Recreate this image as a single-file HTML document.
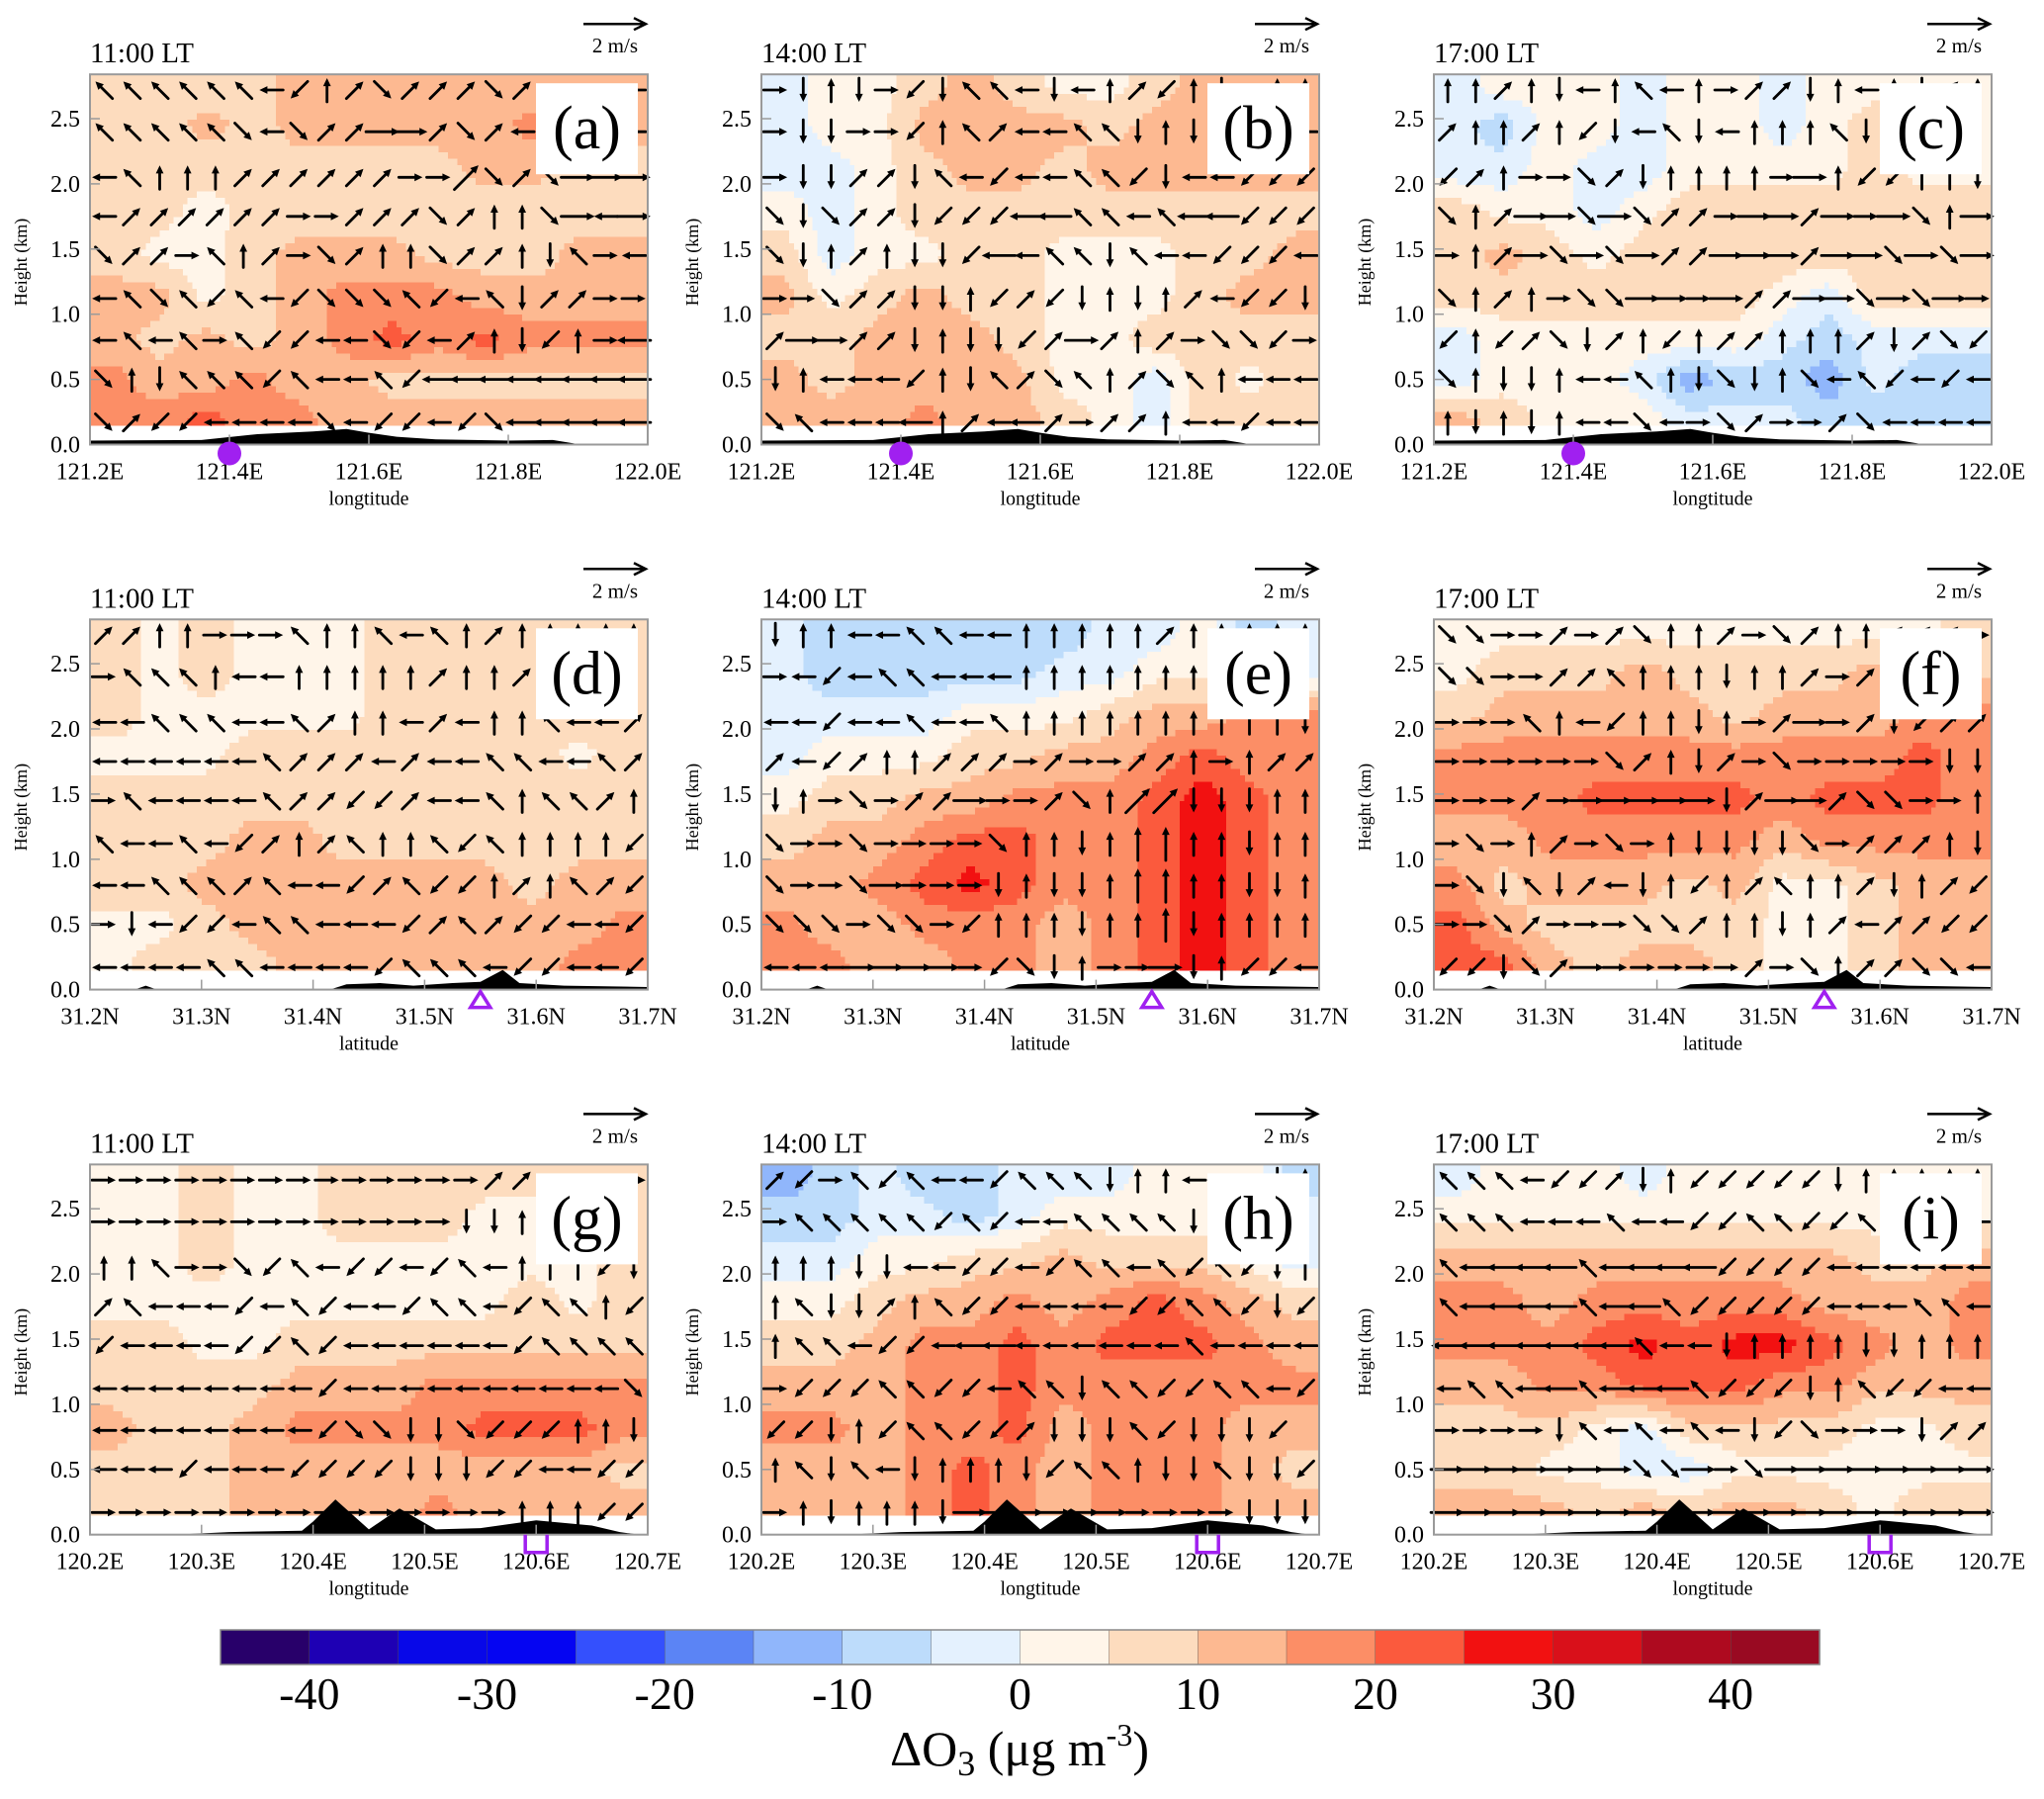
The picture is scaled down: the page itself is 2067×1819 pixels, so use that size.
<!DOCTYPE html>
<html><head><meta charset="utf-8">
<style>
html,body{margin:0;padding:0;background:#fff;}
svg, svg text{font-family:"Liberation Serif","DejaVu Serif",serif;}
</style></head>
<body>
<svg id="fig" width="2067" height="1814" viewBox="0 0 2067 1814" xmlns="http://www.w3.org/2000/svg" font-family="Liberation Serif, DejaVu Serif, serif">
<g id="panels"></g>
<g id="cbar"></g>
</svg>
<script>
// ---------- data ----------
const gridHeights = [2.75, 2.45, 2.1, 1.8, 1.45, 1.15, 0.8, 0.5, 0.2];
const windHeights = [2.72, 2.4, 2.05, 1.75, 1.45, 1.12, 0.8, 0.5, 0.17];
const panelLetters = ['a','b','c','d','e','f','g','h','i'];
const panelTimes = ['11:00  LT','14:00  LT','17:00  LT','11:00  LT','14:00  LT','17:00  LT','11:00  LT','14:00  LT','17:00  LT'];
const rowTickLabels = [
  ['121.2E','121.4E','121.6E','121.8E','122.0E'],
  ['31.2N','31.3N','31.4N','31.5N','31.6N','31.7N'],
  ['120.2E','120.3E','120.4E','120.5E','120.6E','120.7E']
];
const rowAxisTitles = ['longtitude','latitude','longtitude'];
const yTickValues = [0.0, 0.5, 1.0, 1.5, 2.0, 2.5];
const cbarTicks = [-40,-30,-20,-10,0,10,20,30,40];

const fieldA = [
 [5,5,7,8,12,12,12,12,12,12,12,12],
 [7,7,12,8,12,12,12,12,12,17,12,12],
 [7,7,7,7,8,8,8,8,12,12,8,8],
 [7,7,3,7,7,7,7,7,7,7,7,7],
 [8,3,3,8,12,12,12,8,8,7,12,12],
 [12,12,3,8,12,17,17,17,12,12,12,12],
 [12,8,12,8,12,17,22,17,22,17,17,17],
 [17,12,12,17,12,12,8,8,8,8,8,8],
 [17,17,22,17,17,12,12,12,12,12,12,12]];
const fieldB = [
 [-3,3,3,8,12,8,3,3,8,12,12,12],
 [-3,3,3,12,12,12,12,8,12,12,12,12],
 [-3,-3,3,8,12,12,8,12,12,12,12,12],
 [3,-3,3,8,8,8,8,8,8,8,8,8],
 [8,-3,3,3,8,8,3,3,3,8,8,12],
 [12,3,8,12,8,8,3,3,3,8,12,12],
 [8,8,12,12,12,8,3,3,8,8,8,8],
 [12,8,12,12,12,12,3,3,-3,8,3,8],
 [12,12,12,17,12,12,8,3,-3,8,8,8]];
const fieldC = [
 [-3,3,3,3,-3,3,3,-3,3,3,3,3],
 [-3,-8,3,3,-3,3,3,-3,3,8,3,3],
 [-3,-3,3,-3,-3,3,3,3,3,8,3,3],
 [8,3,3,-3,3,8,8,8,8,8,8,8],
 [8,12,8,3,8,8,8,8,8,8,8,8],
 [8,8,8,8,8,8,8,3,-3,8,8,8],
 [-3,3,3,3,3,3,3,-3,-8,-3,-3,-3],
 [-3,3,3,3,-3,-13,-8,-8,-13,-3,-8,-8],
 [12,8,3,3,3,-3,-3,-3,-8,-8,-8,-8]];
const fieldD = [
 [8,3,8,3,3,3,8,8,8,8,8,8],
 [8,3,8,3,3,3,8,8,8,8,8,8],
 [8,3,3,3,3,3,8,8,8,8,8,8],
 [3,3,3,8,8,8,8,8,8,8,3,8],
 [8,8,8,8,8,8,8,8,8,8,8,8],
 [8,8,8,12,12,8,8,8,8,8,8,8],
 [8,8,12,12,12,12,12,12,12,8,12,12],
 [3,3,8,12,12,12,12,12,12,12,12,17],
 [3,8,8,8,12,12,12,12,12,12,17,17]];
const fieldE = [
 [-3,-8,-8,-8,-8,-8,-8,-3,-3,3,-8,-3],
 [-3,-8,-8,-8,-8,-8,-3,-3,3,3,3,-3],
 [-3,-3,-3,-3,3,3,3,8,12,12,17,17],
 [-3,3,3,3,8,8,12,12,17,22,17,17],
 [3,8,8,12,12,17,17,17,22,28,22,17],
 [8,12,12,17,22,22,17,17,22,28,22,17],
 [12,12,17,22,27,22,17,17,22,28,22,17],
 [17,12,12,17,17,17,12,17,22,28,22,17],
 [17,17,12,12,17,17,12,17,22,28,22,17]];
const fieldF = [
 [3,3,3,3,3,3,3,3,3,3,3,8],
 [3,8,8,8,12,8,8,8,8,12,8,8],
 [8,12,12,12,12,12,8,12,12,12,17,17],
 [17,17,17,17,17,17,17,17,17,17,22,17],
 [17,17,17,22,22,22,22,17,22,22,22,17],
 [12,12,17,17,17,17,17,12,17,17,17,17],
 [17,8,12,12,12,8,12,3,3,8,12,12],
 [22,12,8,8,8,8,8,3,3,8,12,12],
 [22,22,12,8,12,12,8,3,3,8,12,12]];
const fieldG = [
 [3,3,8,3,3,8,8,8,8,8,8,8],
 [3,3,8,3,3,8,8,8,3,3,3,8],
 [3,3,8,3,3,3,3,3,3,3,3,8],
 [3,3,3,3,3,3,3,3,3,8,3,8],
 [8,8,3,3,8,8,8,8,8,8,8,8],
 [8,8,8,8,12,12,12,17,17,17,17,17],
 [12,8,8,12,17,17,17,17,22,22,22,17],
 [8,8,8,12,12,12,12,12,12,12,12,8],
 [8,8,8,12,12,12,12,17,12,12,12,12]];
const fieldH = [
 [-13,-8,-3,-8,-8,-3,-3,-3,3,3,3,-8],
 [-8,-8,-3,-3,-8,-3,3,3,3,3,-3,-3],
 [-3,-3,3,3,8,8,12,8,8,8,3,-3],
 [3,3,8,12,12,17,12,17,22,17,12,8],
 [8,8,12,17,17,22,17,22,22,22,17,12],
 [12,12,12,17,17,22,17,17,17,17,17,17],
 [17,17,12,17,17,22,12,17,17,17,12,12],
 [12,12,12,17,22,17,12,17,17,17,12,8],
 [12,12,12,17,22,17,12,17,17,17,12,12]];
const fieldI = [
 [-3,3,3,3,-3,3,3,3,3,3,3,3],
 [3,3,3,3,3,3,3,3,3,3,3,3],
 [12,12,12,12,12,12,12,12,12,8,8,12],
 [17,17,12,17,17,17,17,17,12,12,12,17],
 [17,17,17,22,27,22,27,27,22,17,12,17],
 [12,12,17,17,22,22,22,17,17,12,12,12],
 [8,8,8,3,-3,8,8,8,8,3,3,8],
 [8,8,3,3,-3,-3,3,3,3,3,3,3],
 [12,12,12,8,12,8,12,12,8,3,8,8]];

// wind direction codes: e w n s, q=NW r=NE z=SW c=SE; uppercase = stronger
const windA = ["qqqqqqwznrcrrrcrwwww","qqqqqcwcrrEErcrwwwww","wqnnnrrrrrreeRcrcEEE","wrrrrrreerrrcrnncEwE","crreqnrecrnncrrnsqew","wqcqzqwzcccqzwqsrree","wqwqeqzzwwczwrnszneW","cnsqqqzqwwqzWWWWWWWW","crzzwwwwcwzzwzcWWWWW"];
const windB = ["esnsezsqqwswnrznswnn","esseeznqrwwqqsnsrnnw","essrrsqwzwwqqzswwzzz","cscrrszzzWWqqwqWWzzz","csnrnsszWwqqsqwwzzzw","eecrrssnzrzsnsnrwzzs","rEErrsnsszrErnreccze","snwwwznsqrcqnrcqnwww","cqwwwWnrwWrerrnwwzww"];
const windC = ["nnrnswnqwnerrsnwnsrn","rnnrnzswqswnnnqszsnn","zrneecrsnnnneEnzznns","cnrEEcEcrreEErEeEcnE","enrEcEcErrEEErEEcEcE","cnrneccEEeErrEEcEcEe","znzrcsrnznrrnnnrsrcz","cnssnwwqnscsncwqzwzw","nsnsnwwcwecreercwwww"];
const windD = ["rrnneeeqnnqwqnrnnnnn","eqqqnwwnnnnnrnnrnnnn","wwqqqwwqrnnwrwnnqwwr","wwwwwwqrrrwrwwqqwwqr","eqwwwwqrrzzrwwqnqqrn","qwwqwzrnrqnnqzqnnnnz","wwqqqrqwwzrqzznrnqrz","eswzzwqqwwwzrqrzzwwz","wwwwqqwwwwzqqqwzzwwz"];
const windE = ["snnwwqqwwnnnnnrnnnnn","ewzwqqwwwnnnnnnnnnsn","wwzwwqwwqnnnnnnnnnns","rwzrnnrrrereerrnenrr","snecerrEeercnRRsssnn","ceeceeeecnnsnNNnnsnn","ceecEeeesnssnNNnnssn","cccecceznnnsnnNsnnnn","wwwEEEEezcsneeEsnzzw"];
const windF = ["cceerercnnrecrnnrrre","cceerrqnnnsnnrerrrnn","eeeqnwznnsnerEerszrr","eeeeeecrnsreceeeeess","eeereEEEEEsrEErcceenn","ecenrecensssscerrrns","ecsqsrwsnznrqnnrsnrz","eecreeeccrnnsnrwrrzz","zzscrEeeeeerecnrrccw"];
const windG = ["eeeeeeeeeeeeeerreeee","eeeeeeeeeeeeessnnnnn","nnqeeczqwzzwzqwnnnzs","rqwwwzwqzwwzqqwzqqnz","zwwwwzzqzwwwwwwzqqqq","wwwwwwwwzwwwwwwwwwwc","wwwwwwwwzccssczzznns","wwwzwwwzzzzssszzwwzz","eeeeeeeeeeeeeeennnzz"];
const windH = ["rzeqzqwwzqqqsnnwwwsn","eqqqqqzqzwwqqqqsssnn","nnnsswwzzwzqqwqzqzsn","nqssrnqzzwwwwzzqqzsz","nqqwzzwWWwwwwwwqwwww","ezzzqqzzwqqsqqzzqqwz","zzsnzqqzzrsssqzsssz","nqsqwsnnnszqqnssqssz","ensnnnsEEEEEEeeeesss"];
const windI = ["qqqwzzrsnzzzzzsnnnnn","qqqwwwqwwzzqqzzqzqqw","qWWWWqWWWWzzzzwwwwww","qWWWWqWWqzzzzzwwwqqw","WWWWWWWqwwsnnnnssnnn","wqqWWqWWWqzzzsnqzzww","eeeesqwqwqwszceeesrr","EEEEEEEccEecEEEEEEEE","EEEEEEEEEEEEEEEEEEEE"];

const terrainRow1X = [0,0.2,0.3,0.4,0.46,0.5,0.55,0.62,0.75,0.83,0.88];
const terrainRow1H = [0.03,0.035,0.08,0.1,0.12,0.09,0.06,0.04,0.03,0.035,0.0];
const terrainRow2X = [0,0.08,0.1,0.12,0.43,0.46,0.52,0.58,0.65,0.7,0.74,0.77,0.85,1];
const terrainRow2H = [0,0,0.03,0,0,0.04,0.05,0.03,0.05,0.06,0.15,0.05,0.03,0.02];
const terrainRow3X = [0.15,0.25,0.38,0.40,0.44,0.5,0.555,0.62,0.7,0.8,0.9,0.95,0.985];
const terrainRow3H = [0,0.02,0.03,0.1,0.27,0.04,0.2,0.04,0.05,0.11,0.07,0.02,0];
const markerFrac = [0.25, 0.70, 0.80];

// ---------- styling ----------
const posColors = ['#fff5e9','#fddcbe','#fdb991','#fc8e66','#fb5a3d','#f21111','#d9101a','#ae0a1f','#990a22'];
const negColors = ['#e4f1fe','#bddcfb','#90b6fb','#5b84f5','#3450fd','#0505f2','#0808e8','#1e00b4','#28006a'];
function colorFor(v){
  if (v >= 0) return posColors[Math.min(8, Math.floor(v/5))];
  return negColors[Math.min(8, Math.floor(-v/5))];
}
const NS = 'http://www.w3.org/2000/svg';
const FONT = 'Liberation Serif, DejaVu Serif, serif';
function mk(tag, attrs, parent){
  const e = document.createElementNS(NS, tag);
  for (const k in attrs) e.setAttribute(k, attrs[k]);
  if (tag === 'text') e.setAttribute('font-family', FONT);
  if (parent) parent.appendChild(e);
  return e;
}
const colLeft = [91, 770, 1450];
const rowZero = [449.5, 1000.6, 1551.7];
const PW = 564, KM = 131.8, TOPKM = 2.84;
const fields = [fieldA,fieldB,fieldC,fieldD,fieldE,fieldF,fieldG,fieldH,fieldI];
const winds = [windA,windB,windC,windD,windE,windF,windG,windH,windI];
const terrX = [terrainRow1X, terrainRow2X, terrainRow3X];
const terrH = [terrainRow1H, terrainRow2H, terrainRow3H];
const dirs = {e:[1,0],w:[-1,0],n:[0,1],s:[0,-1],q:[-0.72,0.72],r:[0.72,0.72],z:[-0.72,-0.72],c:[0.72,-0.72]};

const root = document.getElementById('panels');

function sampleField(f, fx, h){
  const nc = f[0].length;
  let cx = fx*nc - 0.5; cx = Math.max(0, Math.min(nc-1, cx));
  let ri; const H = gridHeights;
  let r0, r1, t;
  if (h >= H[0]) { r0 = r1 = 0; t = 0; }
  else if (h <= H[H.length-1]) { r0 = r1 = H.length-1; t = 0; }
  else { for (ri = 0; ri < H.length-1; ri++) if (h <= H[ri] && h >= H[ri+1]) break;
    r0 = ri; r1 = ri+1; t = (H[ri]-h)/(H[ri]-H[ri+1]); }
  const c0 = Math.floor(cx), c1 = Math.min(nc-1, c0+1), u = cx - c0;
  const a = f[r0][c0]*(1-u) + f[r0][c1]*u;
  const b = f[r1][c0]*(1-u) + f[r1][c1]*u;
  return a*(1-t) + b*t;
}

for (let p = 0; p < 9; p++){
  const col = p % 3, row = Math.floor(p/3);
  const L = colLeft[col], Y0 = rowZero[row];
  const xS = fx => L + fx*PW;
  const yS = h => Y0 - h*KM;
  const top = yS(TOPKM);
  const g = mk('g', {}, root);
  
  

  const fill = mk('g', {'shape-rendering':'crispEdges'}, g);
  
  
  const NX = 120, NY = 54, hBot = 0.15;
  const cw = PW/NX, ch = (TOPKM-hBot)*KM/NY;
  for (let j = 0; j < NY; j++){
    const h = TOPKM - (j+0.5)*(TOPKM-hBot)/NY;
    let runStart = 0, runCol = null;
    for (let i = 0; i <= NX; i++){
      const c = i < NX ? colorFor(sampleField(fields[p], (i+0.5)/NX, h)) : null;
      if (c !== runCol){
        if (runCol !== null){
          const r = mk('rect', {x:(L+runStart*cw).toFixed(1), y:(top+j*ch).toFixed(1), width:((i-runStart)*cw+0.6).toFixed(1), height:(ch+0.6).toFixed(1), fill:runCol}, fill);
          
          
        }
        runStart = i; runCol = c;
      }
    }
  }

  const tx = terrX[row], th = terrH[row];
  let d = 'M' + xS(tx[0]).toFixed(1) + ',' + Y0;
  for (let k = 0; k < tx.length; k++) d += ' L' + xS(tx[k]).toFixed(1) + ',' + yS(th[k]).toFixed(1);
  d += ' L' + xS(tx[tx.length-1]).toFixed(1) + ',' + Y0 + ' Z';
  const terr = mk('path', {d:d, fill:'#000'}, g);
  
  

  const wg = mk('g', {stroke:'#000', fill:'#000', 'stroke-linecap':'round'}, g);
  
  
  const W = winds[p];
  for (let r = 0; r < W.length; r++){
    const s = W[r];
    for (let k = 0; k < 20 && k < s.length; k++){
      const ch0 = s[k];
      const dv = dirs[ch0.toLowerCase()];
      if (!dv) continue;
      const len = ch0 === ch0.toUpperCase() ? 34 : 24;
      const cx = xS((k+0.5)/20), cy = yS(windHeights[r]);
      const dx = dv[0]*len/2, dy = -dv[1]*len/2;
      const x1 = cx-dx, y1 = cy-dy, x2 = cx+dx, y2 = cy+dy;
      const ang = Math.atan2(y2-y1, x2-x1);
      const ah = 9;
      const a = mk('g', {}, wg);
      
      
      mk('line', {x1:x1.toFixed(1), y1:y1.toFixed(1), x2:(x2-Math.cos(ang)*4).toFixed(1), y2:(y2-Math.sin(ang)*4).toFixed(1), 'stroke-width':2.8}, a);
      const p1x = x2 - ah*Math.cos(ang-0.45), p1y = y2 - ah*Math.sin(ang-0.45);
      const p2x = x2 - ah*Math.cos(ang+0.45), p2y = y2 - ah*Math.sin(ang+0.45);
      mk('polygon', {points: x2.toFixed(1)+','+y2.toFixed(1)+' '+p1x.toFixed(1)+','+p1y.toFixed(1)+' '+p2x.toFixed(1)+','+p2y.toFixed(1), stroke:'none'}, a);
    }
  }

  const fr = mk('rect', {x:L, y:top, width:PW, height:Y0-top, fill:'none', stroke:'#9a9a9a', 'stroke-width':2}, g);
  
  

  for (const v of yTickValues){
    const yy = yS(v);
    mk('line', {x1:L, x2:L+10, y1:yy, y2:yy, stroke:'#9a9a9a', 'stroke-width':1.5}, g);
    const t = mk('text', {x:L-10, y:yy+8, 'font-size':24, 'text-anchor':'end', fill:'#000'}, g);
    t.textContent = v.toFixed(1);
    
    
  }
  const yt = mk('text', {x:0, y:0, 'font-size':18, 'text-anchor':'middle', transform:'translate('+(L-64)+','+(Y0-1.4*KM)+') rotate(-90)'}, g);
  yt.textContent = 'Height (km)';
  
  

  const labs = rowTickLabels[row];
  for (let k = 0; k < labs.length; k++){
    const xx = xS(k/(labs.length-1));
    mk('line', {x1:xx, x2:xx, y1:Y0, y2:Y0-10, stroke:'#9a9a9a', 'stroke-width':1.5}, g);
    const t = mk('text', {x:xx, y:Y0+35, 'font-size':24, 'text-anchor':'middle'}, g);
    t.textContent = labs[k];
    
    
  }
  const xt = mk('text', {x:L+PW/2, y:Y0+61, 'font-size':20, 'text-anchor':'middle'}, g);
  xt.textContent = rowAxisTitles[row];
  
  

  const mx = xS(markerFrac[row]);
  if (row === 0){
    const m = mk('circle', {cx:mx, cy:Y0+9, r:12, fill:'#a020f0'}, g);
    
    
  } else if (row === 1){
    const m = mk('polygon', {points:(mx-10)+','+(Y0+18)+' '+(mx+10)+','+(Y0+18)+' '+mx+','+(Y0+2), fill:'none', stroke:'#a020f0', 'stroke-width':3.5}, g);
    
    
  } else {
    const m = mk('path', {d:'M'+(mx-11)+','+Y0+' L'+(mx-11)+','+(Y0+18)+' L'+(mx+11)+','+(Y0+18)+' L'+(mx+11)+','+Y0, fill:'none', stroke:'#a020f0', 'stroke-width':3.5}, g);
    
    
  }

  const bx = L + PW - 113, by = top + 9;
  mk('rect', {x:bx, y:by, width:103, height:92, fill:'#fff'}, g);
  const lt = mk('text', {x:bx+51.5, y:by+66, 'font-size':62, 'text-anchor':'middle'}, g);
  lt.textContent = '(' + panelLetters[p] + ')';
  
  

  const tt = mk('text', {x:L, y:top-12, 'font-size':29}, g);
  tt.textContent = panelTimes[p];
  
  

  const ry = top - 51;
  const rl = mk('g', {}, g);
  
  
  mk('line', {x1:L+PW-65, x2:L+PW-5, y1:ry, y2:ry, stroke:'#000', 'stroke-width':2.5}, rl);
  mk('path', {d:'M'+(L+PW-14)+','+(ry-6)+' L'+(L+PW-2)+','+ry+' L'+(L+PW-14)+','+(ry+6), fill:'none', stroke:'#000', 'stroke-width':2.5}, rl);
  const rt = mk('text', {x:L+PW-10, y:top-22, 'font-size':21, 'text-anchor':'end'}, rl);
  rt.textContent = '2 m/s';
}

const cb = document.getElementById('cbar');
const cbX0 = 223, cbW = 1617, cbY = 1648, cbH = 35;
const cbColors = negColors.slice().reverse().concat(posColors);
const binW = cbW / cbColors.length;
for (let k = 0; k < cbColors.length; k++){
  const r = mk('rect', {x:(cbX0+k*binW).toFixed(1), y:cbY, width:(binW+0.5).toFixed(1), height:cbH, fill:cbColors[k], stroke:'#555', 'stroke-width':0.4}, cb);
  
  
}
mk('rect', {x:cbX0, y:cbY, width:cbW, height:cbH, fill:'none', stroke:'#888', 'stroke-width':1.5}, cb);
for (const v of cbarTicks){
  const xx = cbX0 + (v + 45) / 90 * cbW;
  const t = mk('text', {x:xx, y:1728, 'font-size':46, 'text-anchor':'middle'}, cb);
  t.textContent = String(v);
  
  
}
const ct = mk('text', {x:1031, y:1785, 'font-size':50, 'text-anchor':'middle'}, cb);


ct.innerHTML = 'ΔO<tspan font-size="36" dy="10">3</tspan><tspan dy="-10"> (μg m</tspan><tspan font-size="32" dy="-20">-3</tspan><tspan dy="20">)</tspan>';
</script>
</body></html>
